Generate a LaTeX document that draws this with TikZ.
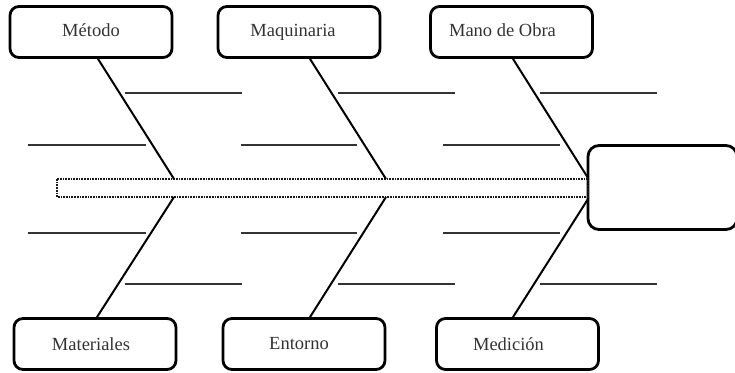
\documentclass[tikz,border=0pt]{standalone}
\usepackage{fontspec}
\setmainfont{Liberation Serif}
\begin{document}
\begin{tikzpicture}[x=1pt,y=-1pt,
  cat/.style={draw=black, line width=2.8pt, rounded corners=9pt, minimum width=162pt, minimum height=51pt, inner sep=0pt, font=\fontsize{18.5}{21}\selectfont, text=black!80},
  headbox/.style={draw=black, line width=2.8pt, rounded corners=11pt, minimum width=149pt, minimum height=84pt, inner sep=0pt},
  bone/.style={draw=black, line width=2pt},
  twig/.style={draw=black!80, line width=2pt},
  spine/.style={draw=black!90, line width=1.7pt, densely dotted}]
\useasboundingbox (0,0) rectangle (735,372);
% head and spine
\node[headbox] (head) at (662.5,187.5) {};
\draw[spine] (57,179) rectangle (588,197);
\coordinate (j1t) at (174,179);
\coordinate (j2t) at (386,179);
\coordinate (j1b) at (174,197);
\coordinate (j2b) at (386,197);
\coordinate (j3t) at (588,178);
\coordinate (j3b) at (588,199);
% category boxes
\node[cat] (metodo) at (91,32) {\raisebox{3pt}{Método}};
\node[cat] (maquinaria) at (299,32) {\raisebox{3pt}{\hspace*{-12pt}Maquinaria}};
\node[cat] (mano) at (511.5,32) {\raisebox{3pt}{\hspace*{-18pt}Mano de Obra}};
\node[cat] (materiales) at (95,344) {\hspace*{-8pt}Materiales};
\node[cat] (entorno) at (304,344) {\hspace*{-10pt}Entorno};
\node[cat] (medicion) at (517.5,344) {\hspace*{-18pt}Medición};
% main bones
\draw[bone] ([xshift=7pt]metodo.south) -- (j1t);
\draw[bone] ([xshift=11pt]maquinaria.south) -- (j2t);
\draw[bone] ([xshift=1.5pt]mano.south) -- (j3t);
\draw[bone] ([xshift=2pt]materiales.north) -- (j1b);
\draw[bone] ([xshift=6pt]entorno.north) -- (j2b);
\draw[bone] ([xshift=-4.5pt]medicion.north) -- (j3b);
% small bones
\draw[twig] (125,93) -- (242,93);
\draw[twig] (338,93) -- (455,93);
\draw[twig] (540,93) -- (657,93);
\draw[twig] (28,145) -- (146,145);
\draw[twig] (241,145) -- (357,145);
\draw[twig] (443,145) -- (560,145);
\draw[twig] (28,233) -- (146,233);
\draw[twig] (241,233) -- (357,233);
\draw[twig] (443,233) -- (560,233);
\draw[twig] (125,284) -- (242,284);
\draw[twig] (338,284) -- (455,284);
\draw[twig] (540,284) -- (657,284);
\end{tikzpicture}
\end{document}
